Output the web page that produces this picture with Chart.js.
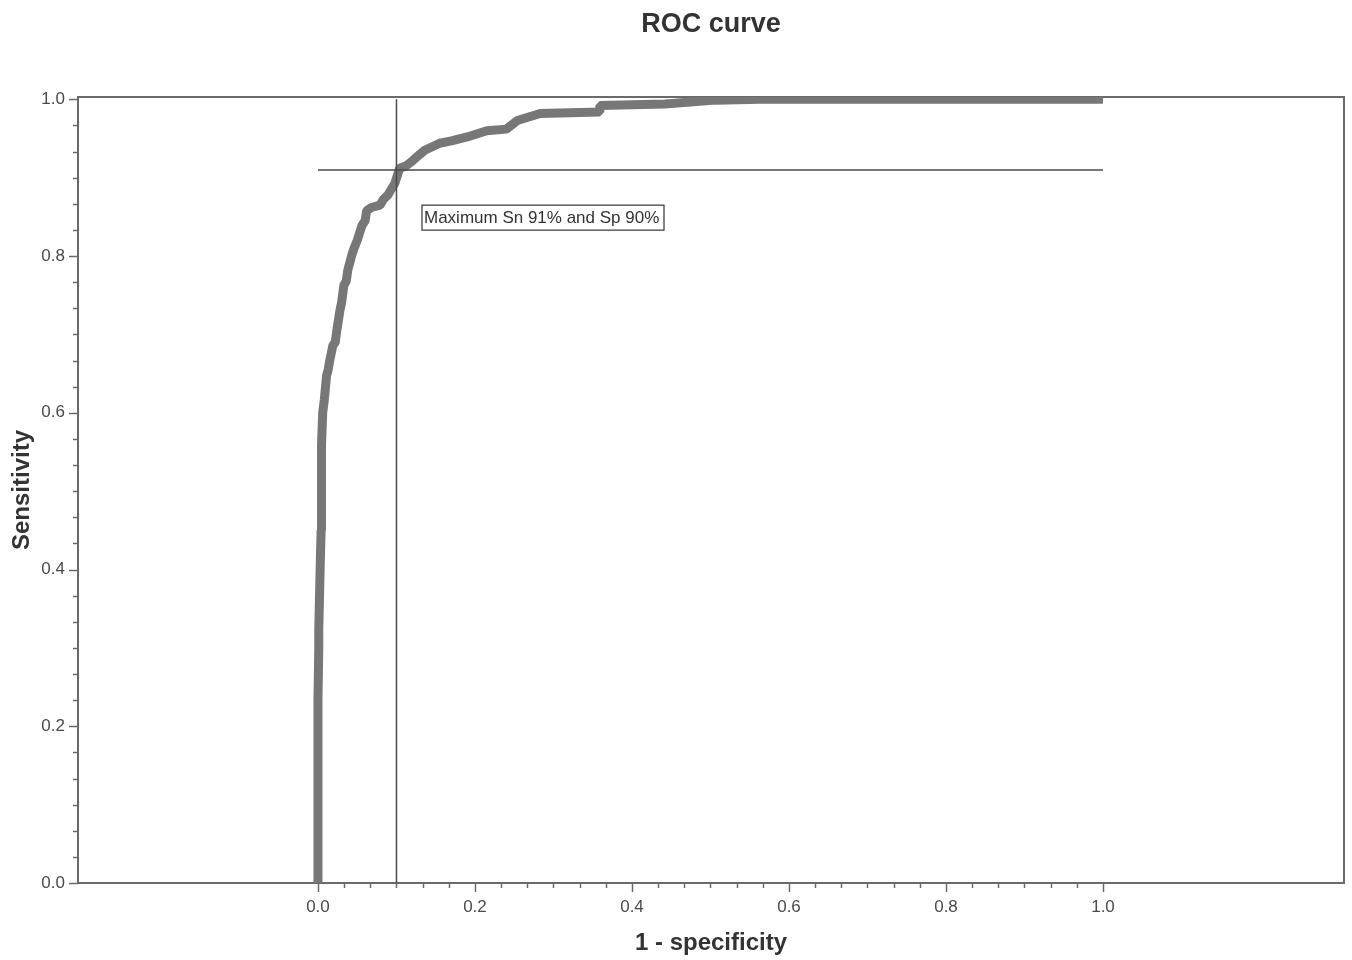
<!DOCTYPE html>
<html><head><meta charset="utf-8">
<script src="https://cdn.jsdelivr.net/npm/chart.js@4.4.1/dist/chart.umd.min.js"></script>
<style>html,body{margin:0;padding:0;background:#fff}#wrap{width:1352px;height:960px;position:relative}</style>
</head><body><div id="wrap"><canvas id="c" width="1352" height="960"></canvas></div>
<script>
const chartTitle = 'ROC curve';
const xAxisTitle = '1 - specificity';
const yAxisTitle = 'Sensitivity';
const annotationText = 'Maximum Sn 91% and Sp 90%';
const tickLabels = ['0.0', '0.2', '0.4', '0.6', '0.8', '1.0'];
const minorPerMajor = 6;

// ROC curve (1 - specificity, sensitivity)
const rocFpr = [0, 0, 0.001, 0.001, 0.003, 0.004, 0.004, 0.005, 0.006, 0.008, 0.011, 0.013, 0.015, 0.019, 0.022, 0.024, 0.028, 0.03, 0.033, 0.036, 0.038, 0.043, 0.046, 0.05, 0.056, 0.06, 0.062, 0.068, 0.079, 0.083, 0.089, 0.098, 0.104, 0.112, 0.121, 0.13, 0.136, 0.155, 0.17, 0.19, 0.215, 0.24, 0.254, 0.283, 0.359, 0.359, 0.442, 0.506, 0.563, 1.0];
const rocTpr = [0, 0.233, 0.3, 0.323, 0.412, 0.45, 0.472, 0.559, 0.6, 0.616, 0.648, 0.655, 0.667, 0.686, 0.69, 0.705, 0.731, 0.74, 0.763, 0.768, 0.782, 0.801, 0.81, 0.82, 0.839, 0.845, 0.858, 0.862, 0.865, 0.872, 0.878, 0.893, 0.912, 0.915, 0.922, 0.93, 0.935, 0.944, 0.947, 0.952, 0.96, 0.962, 0.973, 0.982, 0.984, 0.992, 0.994, 0.999, 1.0, 1.0];

// cut-off reference lines
const cutLineX = [0.1, 0.1];
const cutLineXY = [0, 1.0];
const cutLineYX = [0, 1.0];
const cutLineY = [0.91, 0.91];
const annotationPos = [0.1325, 0.865];

const FONT = "'Liberation Sans', Arial, sans-serif";
const nTicks = (tickLabels.length - 1) * minorPerMajor;

function buildTicks(scale) {
  const t = [];
  for (let i = 0; i <= nTicks; i++) t.push({ value: i / nTicks });
  scale.ticks = t;
}
function tickLabel(v, i) {
  return i % minorPerMajor === 0 ? tickLabels[i / minorPerMajor] : '';
}

const framePlugin = {
  id: 'frame',
  beforeDatasetsDraw(chart) {
    const { ctx, chartArea: a } = chart;
    ctx.save();
    ctx.strokeStyle = '#6a6a6a';
    ctx.lineWidth = 2;
    ctx.strokeRect(a.left, a.top, a.right - a.left, a.bottom - a.top);
    ctx.restore();
  },
  afterDraw(chart) {
    const { ctx, chartArea: a } = chart;
    const xs = chart.scales.x, ys = chart.scales.y;
    ctx.save();
    ctx.strokeStyle = '#6a6a6a';
    ctx.lineWidth = 1.5;
    xs.ticks.forEach((t, i) => {
      const p = Math.round(xs.getPixelForValue(t.value)) + 0.5;
      const len = i % minorPerMajor === 0 ? 9 : 5;
      ctx.beginPath(); ctx.moveTo(p, a.bottom); ctx.lineTo(p, a.bottom + len); ctx.stroke();
    });
    ys.ticks.forEach((t, i) => {
      const p = Math.round(ys.getPixelForValue(t.value)) + 0.5;
      const len = i % minorPerMajor === 0 ? 9 : 5;
      ctx.beginPath(); ctx.moveTo(a.left, p); ctx.lineTo(a.left - len, p); ctx.stroke();
    });
    // annotation box
    const x = xs.getPixelForValue(annotationPos[0]);
    const y = ys.getPixelForValue(annotationPos[1]);
    ctx.fillStyle = '#ffffff';
    ctx.fillRect(x, y, 242, 25);
    ctx.strokeStyle = '#333';
    ctx.lineWidth = 1.2;
    ctx.strokeRect(x, y, 242, 25);
    ctx.fillStyle = '#333';
    ctx.font = '17px ' + FONT;
    ctx.textBaseline = 'middle';
    ctx.textAlign = 'left';
    ctx.fillText(annotationText, x + 2, y + 13, 238);
    ctx.restore();
  }
};

new Chart(document.getElementById('c'), {
  type: 'scatter',
  data: {
    datasets: [
      {
        label: 'ROC',
        data: rocFpr.map((x, i) => ({ x, y: rocTpr[i] })),
        showLine: true, borderColor: '#777777', borderWidth: 9,
        borderJoinStyle: 'bevel', borderCapStyle: 'butt',
        pointRadius: 0, order: 2
      },
      {
        label: 'cutX',
        data: cutLineX.map((x, i) => ({ x, y: cutLineXY[i] })),
        showLine: true, borderColor: '#4a4a4a', borderWidth: 1.5, pointRadius: 0, order: 1
      },
      {
        label: 'cutY',
        data: cutLineYX.map((x, i) => ({ x, y: cutLineY[i] })),
        showLine: true, borderColor: '#4a4a4a', borderWidth: 1.5, pointRadius: 0, order: 1
      }
    ]
  },
  options: {
    responsive: false, animation: false, devicePixelRatio: 1,
    layout: { padding: { left: 0, right: 8, top: 0, bottom: 0 } },
    plugins: {
      legend: { display: false }, tooltip: { enabled: false },
      title: {
        display: true, text: chartTitle, fullSize: false, color: '#333',
        font: { family: FONT, size: 27, weight: 'bold' },
        padding: { top: 8, bottom: 56.6 }
      }
    },
    scales: {
      x: {
        type: 'linear', min: -0.3057, max: 1.307,
        afterBuildTicks: buildTicks,
        afterFit(s) { s.height = 77; },
        grid: { display: false, drawTicks: false },
        border: { display: false },
        ticks: { autoSkip: false, maxRotation: 0, padding: 14, color: '#4a4a4a', font: { family: FONT, size: 17 }, callback: tickLabel },
        title: { display: true, text: xAxisTitle, color: '#333', font: { family: FONT, size: 24, weight: 'bold' }, padding: { top: 0, bottom: 2 } }
      },
      y: {
        type: 'linear', min: 0, max: 1.003,
        afterBuildTicks: buildTicks,
        afterFit(s) { s.width = 78; },
        grid: { display: false, drawTicks: false },
        border: { display: false },
        ticks: { autoSkip: false, padding: 13, color: '#4a4a4a', font: { family: FONT, size: 17 }, callback: tickLabel },
        title: { display: true, text: yAxisTitle, color: '#333', font: { family: FONT, size: 24, weight: 'bold' }, padding: { top: 8, bottom: 0 } }
      }
    }
  },
  plugins: [framePlugin]
});
</script></body></html>
